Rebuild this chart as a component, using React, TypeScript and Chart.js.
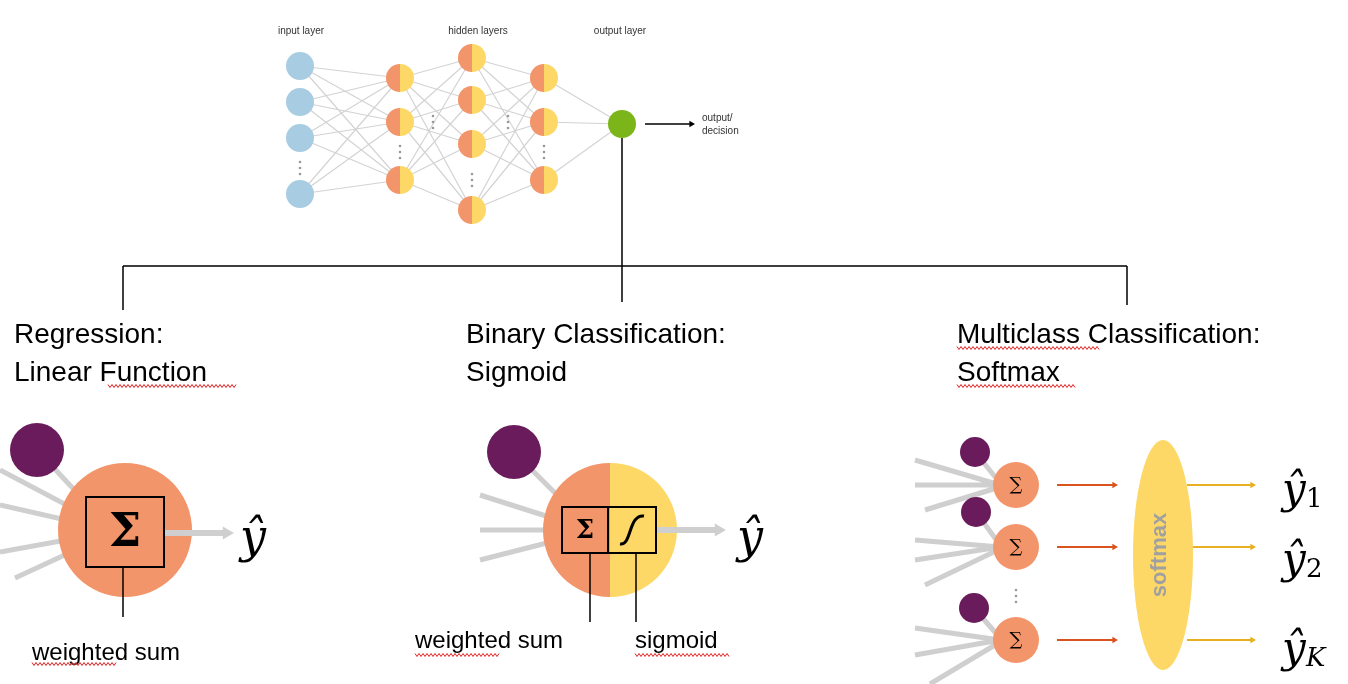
import { useEffect, useRef } from "react"
import { Chart, registerables } from "chart.js"

Chart.register(...registerables)

const W = 1348
const H = 684

// network layers (x, then node y's)
const inputX = 300
const inputY = [66, 102, 138, 194]
const hiddenX = [400, 472, 544]
const hiddenY = [[78, 122, 180], [58, 100, 144, 210], [78, 122, 180]]
const outputNode = { x: 622, y: 124 }
const layerLabels = [
  { text: "input layer", x: 301, y: 34 },
  { text: "hidden layers", x: 478, y: 34 },
  { text: "output layer", x: 620, y: 34 },
]

// tree connector
const treeLines = [
  [622, 138, 622, 302],
  [123, 266, 1127, 266],
  [123, 266, 123, 310],
  [1127, 266, 1127, 305],
]

const headings = [
  { text: "Regression:", x: 14, y: 343 },
  { text: "Linear Function", x: 14, y: 381 },
  { text: "Binary Classification:", x: 466, y: 343 },
  { text: "Sigmoid", x: 466, y: 381 },
  { text: "Multiclass Classification:", x: 957, y: 343 },
  { text: "Softmax", x: 957, y: 381 },
]
const wavy = [
  [108, 237, 386], [957, 1100, 348], [957, 1075, 386],
  [32, 117, 664], [415, 500, 655], [635, 730, 655],
]
const labels = [
  { text: "weighted sum", x: 32, y: 660 },
  { text: "weighted sum", x: 415, y: 648 },
  { text: "sigmoid", x: 635, y: 648 },
]

// bottom: purple inputs
const purpleBig = [[37, 450], [514, 452]]
const purpleSmall = [[975, 452], [976, 512], [974, 608]]
const neuronBig = [[125, 530]]
const neuronSmall = [[1016, 485], [1016, 547], [1016, 640]]
const splitNeuron = { x: 610, y: 530, r: 67 }

const grayInputs = [
  [0, 470, 110, 528], [0, 505, 110, 530], [0, 552, 110, 532], [15, 578, 110, 534], [37, 450, 110, 528],
  [480, 495, 590, 530], [480, 530, 590, 530], [480, 560, 590, 532], [514, 452, 590, 528],
  [915, 460, 1000, 485], [915, 485, 1000, 485], [925, 510, 1000, 487], [975, 452, 1000, 483],
  [915, 540, 1000, 547], [915, 560, 1000, 547], [925, 585, 1000, 549], [976, 512, 1000, 545],
  [915, 628, 1000, 640], [915, 655, 1000, 640], [930, 684, 1000, 642], [974, 608, 1000, 638],
]
const redArrows = [485, 547, 640]
const yellowArrows = [485, 547, 640]
const yhatOut = [
  { x: 1282, y: 503, sub: "1" },
  { x: 1282, y: 573, sub: "2" },
  { x: 1282, y: 662, sub: "K" },
]

function segs(list: number[][]) {
  const pts: any[] = []
  list.forEach(([x1, y1, x2, y2]) => {
    pts.push({ x: x1, y: y1 }, { x: x2, y: y2 }, { x: NaN, y: NaN })
  })
  return pts
}

function networkEdges() {
  const layers: number[][][] = [
    inputY.map((y) => [inputX, y]),
    ...hiddenX.map((x, i) => hiddenY[i].map((y) => [x, y])),
    [[outputNode.x, outputNode.y]],
  ]
  const list: number[][] = []
  for (let i = 0; i < layers.length - 1; i++)
    layers[i].forEach((a) => layers[i + 1].forEach((b) => list.push([a[0], a[1], b[0], b[1]])))
  return list
}

const ORANGE = "#f3956a"
const YELLOW = "#fdd866"

const diagramPlugin = {
  id: "diagram",
  afterDatasetsDraw(chart: any) {
    const c = chart.ctx as CanvasRenderingContext2D
    const px = (v: number) => chart.scales.x.getPixelForValue(v)
    const py = (v: number) => chart.scales.y.getPixelForValue(v)
    c.save()

    const half = (x: number, y: number, r: number) => {
      c.fillStyle = ORANGE
      c.beginPath(); c.arc(px(x), py(y), r, Math.PI / 2, Math.PI * 1.5); c.fill()
      c.fillStyle = YELLOW
      c.beginPath(); c.arc(px(x), py(y), r, -Math.PI / 2, Math.PI / 2); c.fill()
    }
    hiddenX.forEach((x, i) => hiddenY[i].forEach((y) => half(x, y, 14)))
    half(splitNeuron.x, splitNeuron.y, splitNeuron.r)

    const dots = (x: number, y: number) => {
      c.fillStyle = "#999"
      for (let k = -1; k <= 1; k++) { c.beginPath(); c.arc(px(x), py(y + k * 6), 1.3, 0, 7); c.fill() }
    }
    dots(inputX, 168); dots(400, 152); dots(472, 180); dots(544, 152); dots(1016, 596)
    dots(433, 122); dots(508, 122)

    const arrow = (x1: number, y: number, x2: number, color: string, w: number, head: number) => {
      c.strokeStyle = color; c.fillStyle = color; c.lineWidth = w
      c.beginPath(); c.moveTo(px(x1), py(y)); c.lineTo(px(x2) - head, py(y)); c.stroke()
      c.beginPath(); c.moveTo(px(x2), py(y)); c.lineTo(px(x2) - head * 1.4, py(y) - head * 0.8)
      c.lineTo(px(x2) - head * 1.4, py(y) + head * 0.8); c.closePath(); c.fill()
    }
    arrow(645, 124, 695, "#000", 1.5, 4)
    arrow(165, 533, 234, "#cfcfcf", 6, 8)
    arrow(656, 530, 726, "#cfcfcf", 6, 8)
    redArrows.forEach((y) => arrow(1057, y, 1118, "#d9531e", 2, 4))
    yellowArrows.forEach((y) => arrow(1187, y, 1256, "#e8b020", 2, 4))

    // softmax ellipse
    c.fillStyle = YELLOW
    c.beginPath(); c.ellipse(px(1163), py(555), 30, 115, 0, 0, 7); c.fill()
    c.save(); c.translate(px(1160), py(555)); c.rotate(-Math.PI / 2)
    c.fillStyle = "#a0a0a0"; c.font = "bold 22px 'Liberation Sans'"; c.textAlign = "center"; c.textBaseline = "middle"
    c.fillText("softmax", 0, 0); c.restore()

    // boxes
    c.strokeStyle = "#000"; c.lineWidth = 2
    c.strokeRect(px(86), py(497), 78, 70)
    c.strokeRect(px(562), py(507), 46, 46)
    c.strokeRect(px(608), py(507), 48, 46)
    c.fillStyle = "#000"; c.textAlign = "center"; c.textBaseline = "middle"
    c.font = "bold 46px 'DejaVu Serif'"; c.fillText("Σ", px(125), py(534))
    c.font = "bold 26px 'DejaVu Serif'"; c.fillText("Σ", px(585), py(531))
    c.lineWidth = 3
    c.beginPath(); c.moveTo(px(620), py(544))
    c.bezierCurveTo(px(632), py(546), px(628), py(514), px(644), py(516)); c.stroke()
    c.font = "18px 'DejaVu Serif'"; c.lineWidth = 1
    neuronSmall.forEach(([x, y]) => c.fillText("∑", px(x), py(y)))

    // pointer lines
    c.lineWidth = 1.5
    ;[[123, 567, 123, 617], [590, 553, 590, 622], [636, 553, 636, 622]].forEach(([a, b, d, e]) => {
      c.beginPath(); c.moveTo(px(a), py(b)); c.lineTo(px(d), py(e)); c.stroke()
    })

    // texts
    c.textAlign = "center"; c.textBaseline = "alphabetic"
    c.font = "10px 'Liberation Sans'"; c.fillStyle = "#333"
    layerLabels.forEach((l) => c.fillText(l.text, px(l.x), py(l.y)))
    c.textAlign = "left"
    c.fillText("output/", px(702), py(121)); c.fillText("decision", px(702), py(134))
    c.fillStyle = "#000"; c.font = "28px 'Liberation Sans'"
    headings.forEach((h) => c.fillText(h.text, px(h.x), py(h.y)))
    c.font = "24px 'Liberation Sans'"
    labels.forEach((l) => c.fillText(l.text, px(l.x), py(l.y)))

    c.strokeStyle = "#e02020"; c.lineWidth = 1
    wavy.forEach(([a, b, y]) => {
      c.beginPath()
      for (let x = a, k = 0; x <= b; x += 2, k++) {
        const yy = py(y) + (k % 2 ? 1.5 : -1.5)
        k ? c.lineTo(px(x), yy) : c.moveTo(px(x), yy)
      }
      c.stroke()
    })

    c.font = "italic 46px 'DejaVu Serif'"
    c.fillText("ŷ", px(240), py(552))
    c.fillText("ŷ", px(737), py(552))
    yhatOut.forEach((o) => {
      c.font = "italic 42px 'DejaVu Serif'"; c.fillText("ŷ", px(o.x), py(o.y))
      c.font = (o.sub === "K" ? "italic " : "") + "26px 'DejaVu Serif'"; c.fillText(o.sub, px(o.x + 24), py(o.y + 4))
    })
    c.restore()
  },
}

export default function App() {
  const chartRef = useRef<HTMLCanvasElement>(null)
  const chartInstance = useRef<Chart | null>(null)

  useEffect(() => {
    document.body.style.margin = "0"
    if (!chartRef.current) return
    if (chartInstance.current) chartInstance.current.destroy()
    const ctx = chartRef.current.getContext("2d")
    if (!ctx) return

    const pts = (arr: number[][]) => arr.map(([x, y]) => ({ x, y }))
    const line = (data: any[], color: string, width: number) => ({
      type: "line" as const, data, borderColor: color, borderWidth: width,
      pointRadius: 0, showLine: true, spanGaps: false, fill: false, clip: false,
    })
    const nodes = (data: any[], color: string, r: number) => ({
      data, backgroundColor: color, borderWidth: 0, pointRadius: r, pointHoverRadius: r, clip: false,
    })

    chartInstance.current = new Chart(ctx, {
      type: "scatter",
      data: {
        datasets: [
          nodes(pts(neuronSmall), ORANGE, 23),
          nodes(pts(purpleSmall), "#6a1b5b", 15),
          nodes(pts(neuronBig), ORANGE, 67),
          nodes(pts(purpleBig), "#6a1b5b", 27),
          line(segs(grayInputs), "#cfcfcf", 5),
          nodes([outputNode], "#7cb51a", 14),
          nodes(inputY.map((y) => ({ x: inputX, y })), "#a8cde2", 14),
          line(segs(treeLines), "#000", 1.5),
          line(segs(networkEdges()), "#d3d3d3", 1.2),
        ] as any,
      },
      options: {
        animation: false,
        responsive: true,
        maintainAspectRatio: false,
        layout: { padding: 0, autoPadding: false },
        plugins: { legend: { display: false }, tooltip: { enabled: false } },
        scales: {
          x: { type: "linear", min: 0, max: W, display: false },
          y: { type: "linear", min: 0, max: H, reverse: true, display: false },
        },
      },
      plugins: [diagramPlugin],
    })

    return () => {
      if (chartInstance.current) chartInstance.current.destroy()
    }
  }, [])

  return (
    <div style={{ width: W, height: H, background: "#fff" }}>
      <canvas ref={chartRef} />
    </div>
  )
}
